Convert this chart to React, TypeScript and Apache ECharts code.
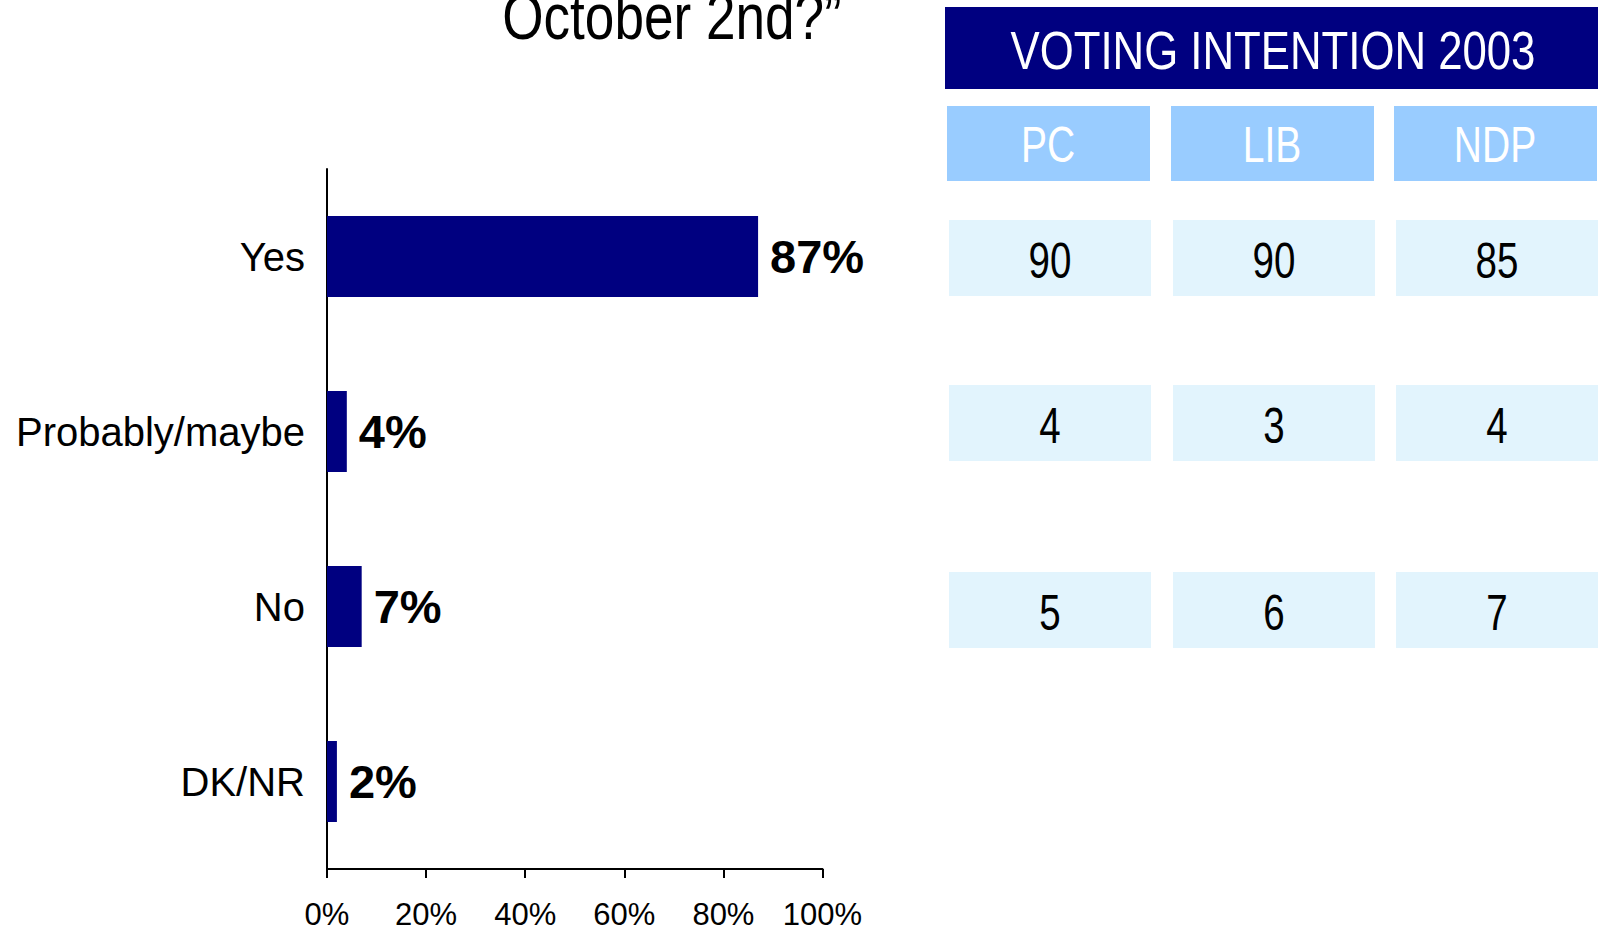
import React, { useEffect, useRef } from "react";
import * as echarts from "echarts";

const categories = ["Yes", "Probably/maybe", "No", "DK/NR"];
const shares = [87, 4, 7, 2];
const xTicks = [0, 20, 40, 60, 80, 100];
const titleText = "October 2nd?”";
const tableTitle = "VOTING INTENTION 2003";
const parties = ["PC", "LIB", "NDP"];
const pcVotes = [90, 4, 5];
const libVotes = [90, 3, 6];
const ndpVotes = [85, 4, 7];

const ARIAL = "'Liberation Sans', Arial, sans-serif";

export default function App() {
  const ref = useRef<HTMLDivElement>(null);
  useEffect(() => {
    if (!ref.current) return;
    const chart = echarts.init(ref.current, undefined, { renderer: "svg" });

    const colX = [949, 1173, 1396];
    const headX = [947, 1171, 1394];
    const rowY = [220, 385, 572];
    const cols = [pcVotes, libVotes, ndpVotes];

    const graphics: any[] = [
      {
        type: "text",
        x: 672,
        y: 17,
        scaleX: 0.83,
        style: {
          text: titleText,
          font: `64px ${ARIAL}`,
          fill: "#000",
          align: "center",
          verticalAlign: "middle",
        },
      },
      {
        type: "rect",
        shape: { x: 945, y: 7, width: 660, height: 82 },
        style: { fill: "#000080" },
      },
      {
        type: "text",
        x: 1273,
        y: 50,
        scaleX: 0.81,
        style: {
          text: tableTitle,
          font: `54px ${ARIAL}`,
          fill: "#fff",
          align: "center",
          verticalAlign: "middle",
        },
      },
    ];
    parties.forEach((p, i) => {
      graphics.push({
        type: "rect",
        shape: { x: headX[i], y: 106, width: 203, height: 75 },
        style: { fill: "#99CCFF" },
      });
      graphics.push({
        type: "text",
        x: headX[i] + 101,
        y: 145,
        scaleX: 0.78,
        style: {
          text: p,
          font: `50px ${ARIAL}`,
          fill: "#fff",
          align: "center",
          verticalAlign: "middle",
        },
      });
      cols[i].forEach((v, r) => {
        graphics.push({
          type: "rect",
          shape: { x: colX[i], y: rowY[r], width: 202, height: 76 },
          style: { fill: "#E2F4FD" },
        });
        graphics.push({
          type: "text",
          x: colX[i] + 101,
          y: rowY[r] + 41,
          scaleX: 0.77,
          style: {
            text: String(v),
            font: `50px ${ARIAL}`,
            fill: "#000",
            align: "center",
            verticalAlign: "middle",
          },
        });
      });
    });

    chart.setOption({
      animation: false,
      backgroundColor: "#fff",
      grid: {
        left: 327,
        right: 775.5,
        top: 169,
        bottom: 62,
        containLabel: false,
        outerBoundsMode: "none",
      },
      xAxis: {
        type: "value",
        min: xTicks[0],
        max: xTicks[xTicks.length - 1],
        interval: xTicks[1] - xTicks[0],
        axisLine: { show: true, lineStyle: { color: "#000", width: 2 } },
        axisTick: { show: true, length: 9, lineStyle: { color: "#000", width: 2 } },
        splitLine: { show: false },
        axisLabel: {
          formatter: "{value}%",
          fontFamily: ARIAL,
          fontSize: 31,
          color: "#000",
          margin: 30,
        },
      },
      yAxis: {
        type: "category",
        inverse: true,
        data: categories,
        axisLine: { show: true, lineStyle: { color: "#000", width: 2 } },
        axisTick: { show: false },
        axisLabel: {
          interval: 0,
          fontFamily: ARIAL,
          fontSize: 40,
          color: "#000",
          margin: 22,
        },
      },
      series: [
        {
          type: "bar",
          data: shares,
          barWidth: 81,
          itemStyle: { color: "#000080" },
          label: {
            show: true,
            position: "right",
            distance: 12,
            formatter: "{c}%",
            fontFamily: ARIAL,
            fontWeight: "bold",
            fontSize: 47,
            color: "#000",
          },
        },
      ],
      graphic: graphics,
    });
    return () => chart.dispose();
  }, []);
  return (
    <div
      ref={ref}
      style={{ position: "fixed", left: 0, top: 0, width: 1598, height: 931 }}
    />
  );
}
